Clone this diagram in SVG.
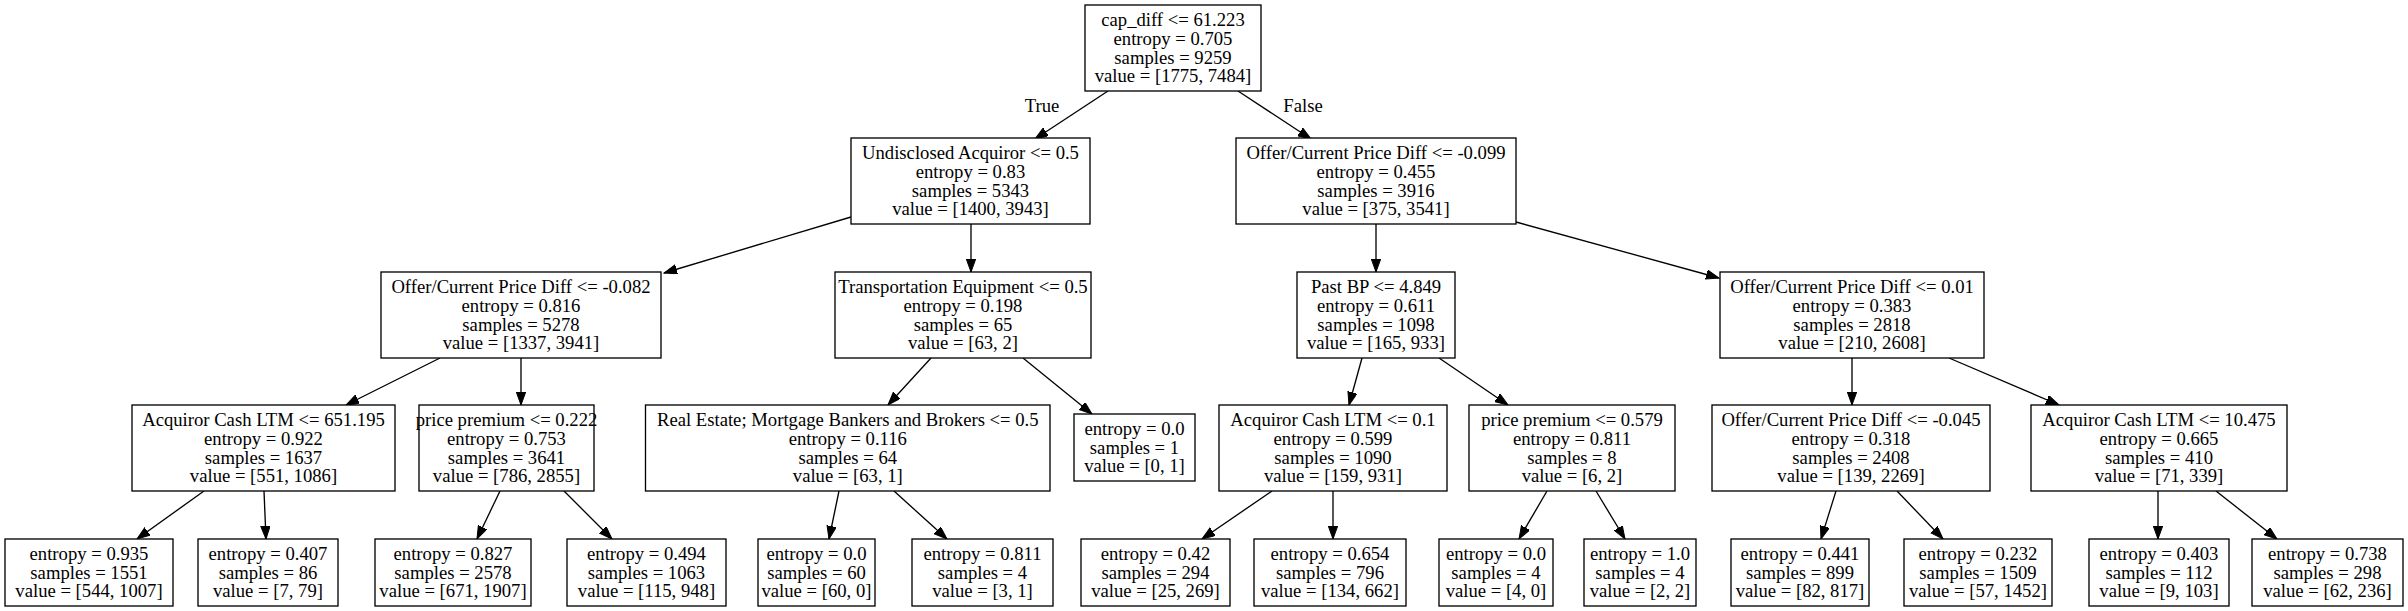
<svg xmlns="http://www.w3.org/2000/svg" width="2408" height="611" viewBox="0 0 2408 611">
<style>
rect.n{fill:#fff;stroke:#000;stroke-width:1.33}
text{font-family:"Liberation Serif","Times New Roman",serif;font-size:18.67px;fill:#000;text-anchor:middle}
line.e{stroke:#000;stroke-width:1.33;marker-end:url(#ah)}
</style>
<defs>
<marker id="ah" markerUnits="userSpaceOnUse" markerWidth="14" markerHeight="10" refX="13" refY="4.7" orient="auto" viewBox="0 0 14 10">
<path d="M0,0 L13,4.7 L0,9.4 Z" fill="#000" stroke="#000" stroke-width="1"/>
</marker>
</defs>
<rect width="2408" height="611" fill="#fff"/>
<g id="connectors">
<line class="e" x1="1108" y1="91" x2="1035" y2="139"/>
<line class="e" x1="1238" y1="91" x2="1311" y2="139"/>
<line class="e" x1="851" y1="217" x2="664" y2="273"/>
<line class="e" x1="971" y1="224" x2="971" y2="272"/>
<line class="e" x1="440" y1="358" x2="346" y2="405"/>
<line class="e" x1="521" y1="358" x2="521" y2="405"/>
<line class="e" x1="204" y1="491" x2="137" y2="539"/>
<line class="e" x1="264" y1="491" x2="266" y2="539"/>
<line class="e" x1="500" y1="491" x2="477" y2="539"/>
<line class="e" x1="564" y1="491" x2="612" y2="539"/>
<line class="e" x1="931" y1="358" x2="888" y2="405"/>
<line class="e" x1="1023" y1="358" x2="1092" y2="414"/>
<line class="e" x1="839" y1="491" x2="829" y2="539"/>
<line class="e" x1="894" y1="491" x2="947" y2="539"/>
<line class="e" x1="1376" y1="224" x2="1376" y2="272"/>
<line class="e" x1="1516" y1="222" x2="1719" y2="278"/>
<line class="e" x1="1362" y1="358" x2="1349" y2="405"/>
<line class="e" x1="1439" y1="358" x2="1508" y2="405"/>
<line class="e" x1="1272" y1="491" x2="1202" y2="539"/>
<line class="e" x1="1333" y1="491" x2="1333" y2="539"/>
<line class="e" x1="1547" y1="491" x2="1519" y2="539"/>
<line class="e" x1="1596" y1="491" x2="1625" y2="539"/>
<line class="e" x1="1852" y1="358" x2="1852" y2="405"/>
<line class="e" x1="1949" y1="358" x2="2059" y2="405"/>
<line class="e" x1="1836" y1="491" x2="1821" y2="539"/>
<line class="e" x1="1897" y1="491" x2="1943" y2="539"/>
<line class="e" x1="2158" y1="491" x2="2158" y2="539"/>
<line class="e" x1="2216" y1="491" x2="2277" y2="539"/>
<text x="1042" y="112">True</text>
<text x="1303" y="112">False</text>
</g>
<g id="n0"><rect class="n" x="1085" y="5" width="176" height="86"/><text x="1173" y="26.1">cap_diff &lt;= 61.223</text><text x="1173" y="44.8">entropy = 0.705</text><text x="1173" y="63.5">samples = 9259</text><text x="1173" y="82.2">value = [1775, 7484]</text></g>
<g id="n1"><rect class="n" x="851" y="138" width="239" height="86"/><text x="970.5" y="159.1">Undisclosed Acquiror &lt;= 0.5</text><text x="970.5" y="177.8">entropy = 0.83</text><text x="970.5" y="196.5">samples = 5343</text><text x="970.5" y="215.2">value = [1400, 3943]</text></g>
<g id="n2"><rect class="n" x="381" y="272" width="280" height="86"/><text x="521" y="293.1">Offer/Current Price Diff &lt;= -0.082</text><text x="521" y="311.8">entropy = 0.816</text><text x="521" y="330.5">samples = 5278</text><text x="521" y="349.2">value = [1337, 3941]</text></g>
<g id="n3"><rect class="n" x="132" y="405" width="263" height="86"/><text x="263.5" y="426.1">Acquiror Cash LTM &lt;= 651.195</text><text x="263.5" y="444.8">entropy = 0.922</text><text x="263.5" y="463.5">samples = 1637</text><text x="263.5" y="482.2">value = [551, 1086]</text></g>
<g id="n4"><rect class="n" x="5" y="539" width="168" height="67"/><text x="89" y="560">entropy = 0.935</text><text x="89" y="578.7">samples = 1551</text><text x="89" y="597.4">value = [544, 1007]</text></g>
<g id="n5"><rect class="n" x="198" y="539" width="140" height="67"/><text x="268" y="560">entropy = 0.407</text><text x="268" y="578.7">samples = 86</text><text x="268" y="597.4">value = [7, 79]</text></g>
<g id="n6"><rect class="n" x="419" y="405" width="175" height="86"/><text x="506.5" y="426.1">price premium &lt;= 0.222</text><text x="506.5" y="444.8">entropy = 0.753</text><text x="506.5" y="463.5">samples = 3641</text><text x="506.5" y="482.2">value = [786, 2855]</text></g>
<g id="n7"><rect class="n" x="375" y="539" width="156" height="67"/><text x="453" y="560">entropy = 0.827</text><text x="453" y="578.7">samples = 2578</text><text x="453" y="597.4">value = [671, 1907]</text></g>
<g id="n8"><rect class="n" x="567" y="539" width="159" height="67"/><text x="646.5" y="560">entropy = 0.494</text><text x="646.5" y="578.7">samples = 1063</text><text x="646.5" y="597.4">value = [115, 948]</text></g>
<g id="n9"><rect class="n" x="835" y="272" width="256" height="86"/><text x="963" y="293.1">Transportation Equipment &lt;= 0.5</text><text x="963" y="311.8">entropy = 0.198</text><text x="963" y="330.5">samples = 65</text><text x="963" y="349.2">value = [63, 2]</text></g>
<g id="n10"><rect class="n" x="645.5" y="405" width="404.5" height="86"/><text x="847.8" y="426.1">Real Estate; Mortgage Bankers and Brokers &lt;= 0.5</text><text x="847.8" y="444.8">entropy = 0.116</text><text x="847.8" y="463.5">samples = 64</text><text x="847.8" y="482.2">value = [63, 1]</text></g>
<g id="n11"><rect class="n" x="758" y="539" width="117" height="67"/><text x="816.5" y="560">entropy = 0.0</text><text x="816.5" y="578.7">samples = 60</text><text x="816.5" y="597.4">value = [60, 0]</text></g>
<g id="n12"><rect class="n" x="912" y="539" width="141" height="67"/><text x="982.5" y="560">entropy = 0.811</text><text x="982.5" y="578.7">samples = 4</text><text x="982.5" y="597.4">value = [3, 1]</text></g>
<g id="n13"><rect class="n" x="1074" y="414" width="121" height="67"/><text x="1134.5" y="435">entropy = 0.0</text><text x="1134.5" y="453.7">samples = 1</text><text x="1134.5" y="472.4">value = [0, 1]</text></g>
<g id="n14"><rect class="n" x="1236" y="138" width="280" height="86"/><text x="1376" y="159.1">Offer/Current Price Diff &lt;= -0.099</text><text x="1376" y="177.8">entropy = 0.455</text><text x="1376" y="196.5">samples = 3916</text><text x="1376" y="215.2">value = [375, 3541]</text></g>
<g id="n15"><rect class="n" x="1297" y="272" width="158" height="86"/><text x="1376" y="293.1">Past BP &lt;= 4.849</text><text x="1376" y="311.8">entropy = 0.611</text><text x="1376" y="330.5">samples = 1098</text><text x="1376" y="349.2">value = [165, 933]</text></g>
<g id="n16"><rect class="n" x="1219" y="405" width="228" height="86"/><text x="1333" y="426.1">Acquiror Cash LTM &lt;= 0.1</text><text x="1333" y="444.8">entropy = 0.599</text><text x="1333" y="463.5">samples = 1090</text><text x="1333" y="482.2">value = [159, 931]</text></g>
<g id="n17"><rect class="n" x="1081" y="539" width="149" height="67"/><text x="1155.5" y="560">entropy = 0.42</text><text x="1155.5" y="578.7">samples = 294</text><text x="1155.5" y="597.4">value = [25, 269]</text></g>
<g id="n18"><rect class="n" x="1254" y="539" width="152" height="67"/><text x="1330" y="560">entropy = 0.654</text><text x="1330" y="578.7">samples = 796</text><text x="1330" y="597.4">value = [134, 662]</text></g>
<g id="n19"><rect class="n" x="1469" y="405" width="206" height="86"/><text x="1572" y="426.1">price premium &lt;= 0.579</text><text x="1572" y="444.8">entropy = 0.811</text><text x="1572" y="463.5">samples = 8</text><text x="1572" y="482.2">value = [6, 2]</text></g>
<g id="n20"><rect class="n" x="1439" y="539" width="114" height="67"/><text x="1496" y="560">entropy = 0.0</text><text x="1496" y="578.7">samples = 4</text><text x="1496" y="597.4">value = [4, 0]</text></g>
<g id="n21"><rect class="n" x="1584" y="539" width="112" height="67"/><text x="1640" y="560">entropy = 1.0</text><text x="1640" y="578.7">samples = 4</text><text x="1640" y="597.4">value = [2, 2]</text></g>
<g id="n22"><rect class="n" x="1720" y="272" width="264" height="86"/><text x="1852" y="293.1">Offer/Current Price Diff &lt;= 0.01</text><text x="1852" y="311.8">entropy = 0.383</text><text x="1852" y="330.5">samples = 2818</text><text x="1852" y="349.2">value = [210, 2608]</text></g>
<g id="n23"><rect class="n" x="1712" y="405" width="278" height="86"/><text x="1851" y="426.1">Offer/Current Price Diff &lt;= -0.045</text><text x="1851" y="444.8">entropy = 0.318</text><text x="1851" y="463.5">samples = 2408</text><text x="1851" y="482.2">value = [139, 2269]</text></g>
<g id="n24"><rect class="n" x="1731" y="539" width="138" height="67"/><text x="1800" y="560">entropy = 0.441</text><text x="1800" y="578.7">samples = 899</text><text x="1800" y="597.4">value = [82, 817]</text></g>
<g id="n25"><rect class="n" x="1904" y="539" width="148" height="67"/><text x="1978" y="560">entropy = 0.232</text><text x="1978" y="578.7">samples = 1509</text><text x="1978" y="597.4">value = [57, 1452]</text></g>
<g id="n26"><rect class="n" x="2031" y="405" width="256" height="86"/><text x="2159" y="426.1">Acquiror Cash LTM &lt;= 10.475</text><text x="2159" y="444.8">entropy = 0.665</text><text x="2159" y="463.5">samples = 410</text><text x="2159" y="482.2">value = [71, 339]</text></g>
<g id="n27"><rect class="n" x="2089" y="539" width="140" height="67"/><text x="2159" y="560">entropy = 0.403</text><text x="2159" y="578.7">samples = 112</text><text x="2159" y="597.4">value = [9, 103]</text></g>
<g id="n28"><rect class="n" x="2252" y="539" width="151" height="67"/><text x="2327.5" y="560">entropy = 0.738</text><text x="2327.5" y="578.7">samples = 298</text><text x="2327.5" y="597.4">value = [62, 236]</text></g>
</svg>
